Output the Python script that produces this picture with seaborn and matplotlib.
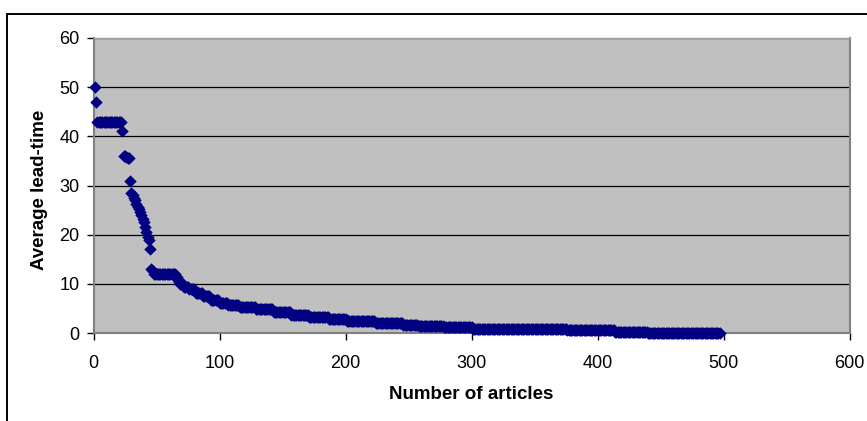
import numpy as np
import pandas as pd
import matplotlib
matplotlib.use("Agg")
import matplotlib.pyplot as plt
from matplotlib.patches import Rectangle
import seaborn as sns

# Average lead-time per article, sorted in descending order.
# Each level is held for the given number of consecutive articles.
lead_time_levels = [
    50, 47, 43, 41, 36, 35.8, 35.6, 35.5, 31, 28.5, 28, 27.5, 27, 26.3,
    25.7, 25.2, 24.6, 24, 23.2, 22.5, 21.5, 20.5, 19.5, 19, 17, 13, 12.7,
    12, 11.3, 10.8, 10.4, 10.0, 9.4, 8.9, 8.2, 7.6, 6.8, 6.2, 5.7, 5.3,
    4.9, 4.3, 3.7, 3.2, 2.8, 2.4, 2.0, 1.6, 1.4, 1.15, 0.9, 0.6, 0.25, 0.0,
]
articles_per_level = [
    1, 1, 20, 1, 2, 1, 1, 1, 1, 1, 1, 1, 1, 1,
    1, 1, 1, 1, 1, 1, 1, 1, 1, 1, 1, 1, 1,
    18, 1, 1, 1, 3, 4, 5, 6, 6, 7, 7, 9, 13,
    14, 14, 14, 16, 14, 23, 22, 12, 20, 23, 75, 38, 26, 58,
]

x_ticks = [0, 100, 200, 300, 400, 500, 600]
y_ticks = [0, 10, 20, 30, 40, 50, 60]

lead_time = np.repeat(lead_time_levels, articles_per_level)
articles = np.arange(1, len(lead_time) + 1)
df = pd.DataFrame({"Number of articles": articles, "Average lead-time": lead_time})

sns.set_theme(style="white")
plt.rcParams["font.family"] = ["Liberation Sans", "DejaVu Sans"]

fig = plt.figure(figsize=(8.67, 4.21), dpi=100)
ax = fig.add_axes([93.5 / 867, 1 - 333 / 421, 756 / 867, 295 / 421])
ax.set_facecolor("#C0C0C0")

# outer chart frame
fig.patches.append(Rectangle((7 / 867, -0.05), 1.1, (1 - 14 / 421) + 0.05,
                             transform=fig.transFigure, fill=False,
                             edgecolor="black", linewidth=1.4, zorder=0))

for y in y_ticks[1:]:
    ax.axhline(y, color="black", linewidth=0.9, zorder=1)

sns.scatterplot(data=df, x="Number of articles", y="Average lead-time",
                marker="D", color="#000080", s=40, edgecolor="#000080",
                linewidth=0, ax=ax, zorder=3, clip_on=False)

ax.set_xlim(0, 600)
ax.set_ylim(0, 60)
ax.set_xticks(x_ticks)
ax.set_yticks(y_ticks)
ax.tick_params(axis="both", which="major", length=5, width=1, color="black",
               direction="out", labelsize=13, labelcolor="black",
               bottom=True, left=True)
ax.tick_params(axis="x", pad=11)
ax.tick_params(axis="y", pad=5)

for side in ["left", "bottom"]:
    ax.spines[side].set_color("#808080")
    ax.spines[side].set_linewidth(1.5)
ax.spines["right"].set_color("#808080")
ax.spines["right"].set_linewidth(1.5)
ax.spines["top"].set_color("#A0A0A0")
ax.spines["top"].set_linewidth(1.0)

ax.set_xlabel("Number of articles", fontsize=13.5, fontweight="bold", color="black")
ax.set_ylabel("Average lead-time", fontsize=13.5, fontweight="bold", color="black")
ax.xaxis.set_label_coords(0.5, (333 - 386) / 295)
ax.yaxis.set_label_coords((48 - 93.5) / 756, 0.485)

fig.savefig("out.png", dpi=100)
